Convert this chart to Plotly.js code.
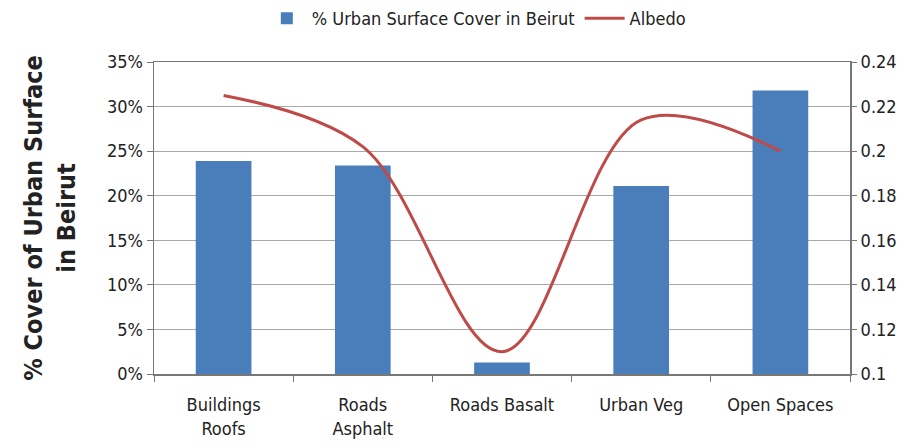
<!DOCTYPE html>
<html>
<head>
<meta charset="utf-8">
<script src="https://cdn.plot.ly/plotly-3.0.1.min.js"></script>
<style>html,body{margin:0;padding:0;background:#fff;}#chart{width:916px;height:447px;}</style>
</head>
<body>
<div id="chart"></div>
<script>
var categories = ["Buildings<br>Roofs", "Roads<br>Asphalt", "Roads Basalt", "Urban Veg", "Open Spaces"];
var coverPct = [0.239, 0.234, 0.013, 0.211, 0.318];
var albedo = [0.225, 0.202, 0.110, 0.214, 0.200];
var leftTicks = [0, 0.05, 0.10, 0.15, 0.20, 0.25, 0.30, 0.35];
var leftTickText = ["0%", "5%", "10%", "15%", "20%", "25%", "30%", "35%"];
var rightTicks = [0.1, 0.12, 0.14, 0.16, 0.18, 0.2, 0.22, 0.24];
var rightTickText = ["0.1", "0.12", "0.14", "0.16", "0.18", "0.2", "0.22", "0.24"];

var FONT = '"Liberation Sans Narrow", "DejaVu Sans Condensed", "Liberation Sans", Arial, sans-serif';

var traces = [
  {
    type: "bar", x: categories, y: coverPct, name: "% Urban Surface Cover in Beirut",
    marker: {color: "#4a7ebb"}, yaxis: "y"
  },
  {
    type: "scatter", mode: "lines", x: categories, y: albedo, name: "Albedo",
    line: {color: "#be4b48", width: 3, shape: "spline", smoothing: 1}, yaxis: "y2"
  }
];

var layout = {
  width: 916, height: 447,
  margin: {l: 154, r: 66, t: 62, b: 73},
  paper_bgcolor: "#ffffff", plot_bgcolor: "#ffffff",
  font: {family: FONT, size: 17, color: "#222"},
  bargap: 0.6,
  showlegend: true,
  legend: {
    orientation: "h", xref: "container", yref: "container",
    x: 0.52, xanchor: "center", y: 1.0, yanchor: "top",
    font: {family: FONT, size: 18, color: "#222"},
    itemwidth: 40, traceorder: "normal"
  },
  xaxis: {
    type: "category", tickson: "boundaries", ticks: "outside", ticklen: 6,
    tickcolor: "#777", showline: true, linecolor: "#777", linewidth: 1.5,
    mirror: true, showgrid: false, ticklabelstandoff: 14,
    tickfont: {family: FONT, size: 18, color: "#222"}
  },
  yaxis: {
    range: [0, 0.35], tickvals: leftTicks, ticktext: leftTickText,
    ticks: "outside", ticklen: 6, tickcolor: "#777",
    showline: true, linecolor: "#777", linewidth: 1.5, mirror: true,
    showgrid: true, gridcolor: "#a8a8a8", gridwidth: 1, zeroline: false,
    tickfont: {family: FONT, size: 18, color: "#222"},
    title: {text: "<b>% Cover of Urban Surface<br>in Beirut</b>", font: {family: FONT, size: 25, color: "#222"}, standoff: 24}
  },
  yaxis2: {
    overlaying: "y", side: "right", range: [0.1, 0.24],
    tickvals: rightTicks, ticktext: rightTickText,
    ticks: "outside", ticklen: 6, tickcolor: "#777",
    showgrid: false, zeroline: false, showline: false,
    tickfont: {family: FONT, size: 18, color: "#222"}
  }
};

Plotly.newPlot("chart", traces, layout, {displayModeBar: false, staticPlot: true});
</script>
</body>
</html>
